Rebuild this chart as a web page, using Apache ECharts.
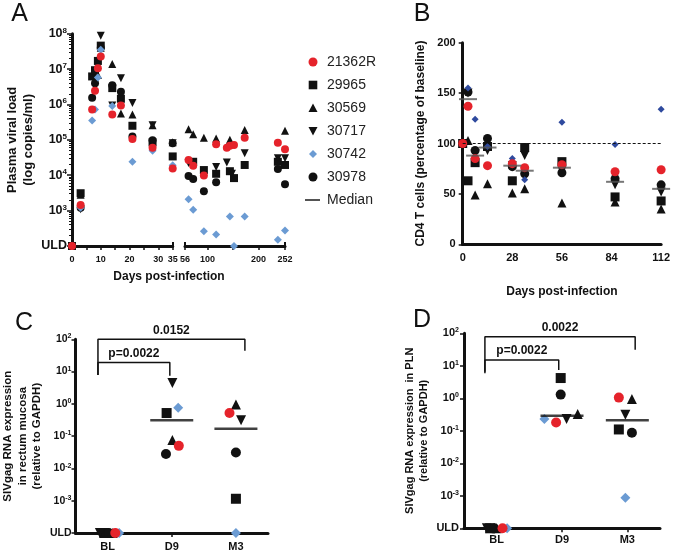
<!DOCTYPE html>
<html><head><meta charset="utf-8">
<script src="https://cdn.jsdelivr.net/npm/echarts@6/dist/echarts.min.js"></script>
<style>html,body{margin:0;padding:0;background:#fff}#c{width:673px;height:552px}</style>
</head><body><div id="c"></div>
<script>
// ---------------- DATA ----------------
const animals = ['21362R', '29965', '30569', '30717', '30742', '30978'];

// Panel A: plasma viral load [day, copies/ml]; ULD plotted at the axis floor (1e2)
const A_ULD = 100;
const vl_21362R = [[0,100],[3,1450],[7,7.2e5],[8,2.45e6],[9,1.05e7],[10,2.25e7],[14,5.2e5],[17,9.3e5],[21,1.05e5],[28,6.0e4],[35,1.55e4],
  [63,2.7e4],[72,1.85e4],[93,9.8e3],[117,7.5e4],[138,6.0e4],[144,6.8e4],[152,7.1e4],[173,1.15e5],[238,8.3e4],[252,5.4e4]];
const vl_29965 = [[0,100],[3,3.1e3],[7,6.2e6],[8,9.3e6],[9,1.7e7],[10,4.6e7],[14,2.9e6],[17,1.45e6],[21,2.5e5],[28,8.5e4],[35,3.4e4],
  [72,2.4e4],[93,1.4e4],[117,1.1e4],[144,1.3e4],[152,8.3e3],[173,1.95e4],[238,2.4e4],[252,1.95e4]];
const vl_30569 = [[0,100],[3,2.8e3],[9,6.8e6],[10,4.0e7],[14,1.4e7],[17,5.6e5],[21,5.2e5],[28,2.6e5],[35,8.5e4],
  [63,2.0e5],[72,1.45e5],[93,1.15e5],[117,1.1e5],[144,1.0e5],[173,1.9e5],[252,1.8e5]];
const vl_30717 = [[0,100],[3,1.1e3],[10,8.7e7],[14,9.3e5],[17,5.5e6],[21,1.1e6],[28,2.6e5],[35,8.0e4],
  [63,2.2e4],[117,1.7e4],[138,2.3e4],[148,1.1e4],[173,4.2e4],[238,3.0e4],[252,3.0e4]];
const vl_30742 = [[0,100],[3,1.2e3],[7,3.5e5],[8,7.2e5],[9,5.8e6],[10,3.5e7],[14,9.1e5],[21,2.4e4],[28,4.9e4],[35,1.9e4],
  [63,2.1e3],[72,1.05e3],[93,2.6e2],[117,2.1e2],[144,6.8e2],[152,100],[173,6.8e2],[238,1.5e2],[252,2.75e2]];
const vl_30978 = [[0,100],[3,1.2e3],[7,1.55e6],[8,4.0e6],[10,4.0e7],[14,3.5e6],[17,2.3e6],[21,1.25e5],[28,9.8e4],[35,8.0e4],
  [63,9.5e3],[72,7.8e3],[93,3.5e3],[117,6.3e3],[238,1.5e4],[252,5.6e3]];
const aLeftLabels = [0, 10, 20, 30, 35];
const aLeftTicks = [0, 5, 10, 15, 20, 25, 30, 35];
const aRightLabels = [56, 100, 200, 252];
const aRightTicks = [56, 100, 150, 200, 252];

// Panel B: CD4 T cells, % of baseline
const cd4Days = [0, 3, 7, 14, 28, 35, 56, 86, 112];
const cd4_21362R = [100, 137, 85, 78, 80, 76, 79, 72, 74];
const cd4_29965  = [100, 63, 81, 97, 63, 96, 82, 47, 43];
const cd4_30569  = [100, 103, 49, 60, 51, 55, 41, 42, 35];
const cd4_30717  = [100, 150, 90, 93, 78, 88, 73, 59, 52];
const cd4_30742  = [100, 155, 124, 97, 85, 64, 121, 99, 134];
const cd4_30978  = [100, 151, 93, 105, 77, 70, 71, 65, 59];
const cd4Median  = [null, 144, 88, 96, 78, 73, 76, 62, 55];
const cd4Baseline = 100;

// Panels C/D: SIVgag RNA, [group position (0=BL,1=D9,2=M3, with jitter), value]; ULD = 1e-4
const rnaGroups = ['BL', 'D9', 'M3'];
const RNA_ULD = 1e-4;
const rm_21362R = [[0.12,1e-4],[1.11,0.05],[1.90,0.52]];
const rm_29965  = [[-0.05,1e-4],[0.92,0.52],[2.00,1.15e-3]];
const rm_30569  = [[0.08,1e-4],[1.01,0.076],[2.00,0.95]];
const rm_30717  = [[-0.12,1e-4],[1.01,4.4],[2.08,0.31]];
const rm_30742  = [[0.18,1e-4],[1.10,0.76],[2.00,1e-4]];
const rm_30978  = [[0.02,1e-4],[0.91,0.028],[2.00,0.031]];
const rmMedian  = [[1,0.31],[2,0.17]];
const rmBrackets = [
  {label:'p=0.0022', from:-0.15, to:0.97, top:19, legFrom:7.9, legTo:7.4},
  {label:'0.0152', from:-0.15, to:2.14, top:100, legFrom:7.9, legTo:44}
];

const pln_21362R = [[0.09,1e-4],[0.91,0.18],[1.87,1.05]];
const pln_29965  = [[-0.10,1e-4],[0.98,4.2],[1.87,0.11]];
const pln_30569  = [[0.00,1e-4],[1.24,0.33],[2.07,0.95]];
const pln_30717  = [[-0.15,1e-4],[1.07,0.23],[1.97,0.31]];
const pln_30742  = [[0.16,1e-4],[0.73,0.23],[1.97,8.7e-4]];
const pln_30978  = [[-0.04,1e-4],[0.98,1.3],[2.07,0.087]];
const plnMedian  = [[1,0.29],[2,0.21]];
const plnBrackets = [
  {label:'p=0.0022', from:-0.18, to:0.95, top:15, legFrom:5.9, legTo:7.4},
  {label:'0.0022', from:-0.18, to:2.12, top:79, legFrom:6.6, legTo:31}
];

// ---------------- STYLE ----------------
const FONT = '"Liberation Sans", Arial, Helvetica, sans-serif';
const DOWN = 'path://M0,0 L10,0 L5,9 Z';
const SYM = {'21362R':'circle','29965':'rect','30569':'triangle','30717':DOWN,'30742':'diamond','30978':'circle'};
const COL = {'21362R':'#e5232b','29965':'#111','30569':'#111','30717':'#111','30742':'#6b9bd3','30978':'#111'};
const COL_B = Object.assign({}, COL, {'30742':'#2f4a9e'});
const drawOrder = ['29965','30569','30717','30978','30742','21362R'];
// legend icons drawn inside an 18x10 box (the leading/trailing moves fix the box)
const BOX = 'path://M0,0 M18,10 ';
const LEG_ICON = {
  '21362R': BOX + 'M4.5,5 A4.5,4.5 0 1,0 13.5,5 A4.5,4.5 0 1,0 4.5,5 Z',
  '29965':  BOX + 'M4.7,0.7 L13.3,0.7 L13.3,9.3 L4.7,9.3 Z',
  '30569':  BOX + 'M9,0.5 L13.5,9 L4.5,9 Z',
  '30717':  BOX + 'M4.5,1 L13.5,1 L9,9.5 Z',
  '30742':  BOX + 'M9,1 L13,5 L9,9 L5,5 Z',
  '30978':  BOX + 'M4.5,5 A4.5,4.5 0 1,0 13.5,5 A4.5,4.5 0 1,0 4.5,5 Z',
  'Median': BOX + 'M1,4.1 L16,4.1 L16,5.9 L1,5.9 Z'
};

const vlOf = {'21362R':vl_21362R,'29965':vl_29965,'30569':vl_30569,'30717':vl_30717,'30742':vl_30742,'30978':vl_30978};
const cd4Of = {'21362R':cd4_21362R,'29965':cd4_29965,'30569':cd4_30569,'30717':cd4_30717,'30742':cd4_30742,'30978':cd4_30978};
const rmOf = {'21362R':rm_21362R,'29965':rm_29965,'30569':rm_30569,'30717':rm_30717,'30742':rm_30742,'30978':rm_30978};
const plnOf = {'21362R':pln_21362R,'29965':pln_29965,'30569':pln_30569,'30717':pln_30717,'30742':pln_30742,'30978':pln_30978};

function powLabel(uld) {
  return function (v) {
    if (Math.abs(v - uld) / uld < 1e-6) return '{b|ULD}';
    return '{b|10}{s|' + Math.round(Math.log10(v)) + '}';
  };
}
function richOf(big, small) {
  return {
    b: {fontSize: big, fontWeight: 'bold', fontFamily: FONT, color: '#111', lineHeight: big + 2},
    s: {fontSize: small, fontWeight: 'bold', fontFamily: FONT, color: '#111', verticalAlign: 'top', lineHeight: small + 1}
  };
}
const AX = {onZero: false, lineStyle: {color: '#111', width: 3}};
const TICK = (len, extra) => Object.assign({show: true, length: len, lineStyle: {color: '#111', width: 1.5}}, extra || {});
const LBL = (size, extra) => Object.assign({color: '#111', fontSize: size, fontWeight: 'bold', fontFamily: FONT}, extra || {});
const NAME = (size) => ({color: '#111', fontSize: size, fontWeight: 'bold', fontFamily: FONT, lineHeight: size + 3});
const HIDDEN_LINE = {show: false, onZero: false};

// minor log ticks for panel A (tick positions only)
const aMinor = [];
for (let d = 2; d < 8; d++) for (let k = 2; k <= 9; k++) aMinor.push(k * Math.pow(10, d));

const grids = [
  {left: 72, top: 33.7, width: 100.7, height: 212.3},
  {left: 185, top: 33.7, width: 100, height: 212.3},
  {left: 462.7, top: 42.7, width: 201.3, height: 201.6},
  {left: 70, top: 339.3, width: 198, height: 195},
  {left: 464, top: 333.3, width: 196, height: 195}
];

const xAxis = [
  {gridIndex: 0, type: 'value', min: 0, max: 35, position: 'bottom', splitLine: {show: false}, axisLine: AX,
   axisTick: TICK(4, {customValues: aLeftTicks}), axisLabel: LBL(9, {customValues: aLeftLabels, margin: 9})},
  {gridIndex: 1, type: 'value', min: 56, max: 252, position: 'bottom', splitLine: {show: false}, axisLine: AX,
   axisTick: TICK(4, {customValues: aRightTicks}), axisLabel: LBL(9, {customValues: aRightLabels, margin: 9})},
  {gridIndex: 2, type: 'value', min: 0, max: 112, interval: 28, splitLine: {show: false}, axisLine: AX,
   axisTick: {show: false}, axisLabel: LBL(11, {margin: 8}),
   name: 'Days post-infection', nameLocation: 'middle', nameGap: 40, nameTextStyle: NAME(12)},
  {gridIndex: 3, type: 'value', min: -0.5, max: 2.5, splitLine: {show: false}, axisLine: AX,
   axisTick: TICK(4, {customValues: [0, 1, 2]}),
   axisLabel: LBL(11, {customValues: [0, 1, 2], margin: 8, formatter: v => rnaGroups[Math.round(v)]})},
  {gridIndex: 4, type: 'value', min: -0.5, max: 2.5, splitLine: {show: false}, axisLine: AX,
   axisTick: TICK(4, {customValues: [0, 1, 2]}),
   axisLabel: LBL(11, {customValues: [0, 1, 2], margin: 6, formatter: v => rnaGroups[Math.round(v)]})},
  // end caps of the broken axis in A
  {gridIndex: 0, type: 'value', min: 0, max: 35, position: 'bottom', splitLine: {show: false}, axisLine: HIDDEN_LINE,
   axisLabel: {show: false}, axisTick: TICK(4, {inside: true, customValues: [35], lineStyle: {color: '#111', width: 2}})},
  {gridIndex: 1, type: 'value', min: 56, max: 252, position: 'bottom', splitLine: {show: false}, axisLine: HIDDEN_LINE,
   axisLabel: {show: false}, axisTick: TICK(4, {inside: true, customValues: [56, 252], lineStyle: {color: '#111', width: 2}})}
];

const yAxis = [
  {gridIndex: 0, type: 'log', logBase: 10, min: 100, max: 1e8, position: 'left', splitLine: {show: false}, axisLine: AX,
   axisTick: TICK(5), axisLabel: {formatter: powLabel(A_ULD), margin: 5, rich: richOf(12.5, 8)},
   name: 'Plasma viral load\n(log copies/ml)', nameLocation: 'middle', nameRotate: 90, nameGap: 36, nameTextStyle: NAME(13)},
  {gridIndex: 1, type: 'log', logBase: 10, min: 100, max: 1e8, position: 'left', show: false, axisLine: HIDDEN_LINE},
  {gridIndex: 2, type: 'value', min: 0, max: 200, interval: 50, splitLine: {show: false}, axisLine: AX,
   axisTick: TICK(4), axisLabel: LBL(11, {margin: 7}),
   name: 'CD4 T cells (percentage of baseline)', nameLocation: 'middle', nameRotate: 90, nameGap: 35, nameTextStyle: NAME(12)},
  {gridIndex: 3, type: 'log', logBase: 10, min: 1e-4, max: 100, splitLine: {show: false}, axisLine: AX,
   axisTick: TICK(4), axisLabel: {formatter: powLabel(RNA_ULD), margin: 4, rich: richOf(10.5, 7)},
   name: 'SIVgag RNA expression\nin rectum mucosa\n(relative to GAPDH)', nameLocation: 'middle', nameRotate: 90, nameGap: 31,
   nameTextStyle: NAME(11.5)},
  {gridIndex: 4, type: 'log', logBase: 10, min: 1e-4, max: 100, splitLine: {show: false}, axisLine: AX,
   axisTick: TICK(4), axisLabel: {formatter: powLabel(RNA_ULD), margin: 5, rich: richOf(11, 7)},
   name: 'SIVgag RNA expression  in PLN\n(relative to GAPDH)', nameLocation: 'middle', nameRotate: 90, nameGap: 33,
   nameTextStyle: NAME(11)},
  {gridIndex: 0, type: 'log', logBase: 10, min: 100, max: 1e8, position: 'left', splitLine: {show: false},
   axisLine: HIDDEN_LINE, axisLabel: {show: false}, axisTick: TICK(3, {customValues: aMinor, lineStyle: {color: '#111', width: 1}})}
];

const series = [];
function scatter(name, xi, yi, data, size, color, z) {
  series.push({type: 'scatter', name, xAxisIndex: xi, yAxisIndex: yi, data, symbol: SYM[name], symbolSize: size,
    itemStyle: {color: color, opacity: 1}, clip: false, z: z || 3, emphasis: {disabled: true}, silent: true});
}
drawOrder.forEach(n => {
  scatter(n, 0, 0, vlOf[n].filter(p => p[0] <= 35), 8, COL[n]);
  scatter(n, 1, 1, vlOf[n].filter(p => p[0] >= 56), 8, COL[n]);
});
drawOrder.forEach(n => {
  scatter(n, 2, 2, cd4Days.map((d, i) => [d, cd4Of[n][i]]), n === '30742' ? 7 : 9, COL_B[n]);
});
drawOrder.forEach(n => {
  scatter(n, 3, 3, rmOf[n], 10, COL[n]);
  scatter(n, 4, 4, plnOf[n], 10, COL[n]);
});
// medians
series.push({type: 'scatter', name: 'Median', xAxisIndex: 2, yAxisIndex: 2, symbol: 'rect', symbolSize: [18, 2],
  itemStyle: {color: '#555'}, z: 5, silent: true, clip: false,
  data: cd4Days.map((d, i) => [d, cd4Median[i]]).filter(p => p[1] != null),
  markLine: {silent: true, symbol: 'none', label: {show: false}, lineStyle: {color: '#111', type: [3, 2], width: 1},
    data: [{yAxis: cd4Baseline}]}});
series.push({type: 'scatter', name: 'Median', xAxisIndex: 3, yAxisIndex: 3, symbol: 'rect', symbolSize: [43, 2.5],
  itemStyle: {color: '#111'}, z: 5, silent: true, clip: false, data: rmMedian});
series.push({type: 'scatter', name: 'Median', xAxisIndex: 4, yAxisIndex: 4, symbol: 'rect', symbolSize: [43, 2.5],
  itemStyle: {color: '#111'}, z: 5, silent: true, clip: false, data: plnMedian});
// significance brackets
function brackets(list, xi, yi) {
  list.forEach(b => {
    series.push({type: 'line', xAxisIndex: xi, yAxisIndex: yi, showSymbol: false, silent: true, clip: false,
      lineStyle: {color: '#111', width: 1.5}, z: 2,
      data: [[b.from, b.legFrom], [b.from, b.top], [b.to, b.top], [b.to, b.legTo]],
      markPoint: {silent: true, symbol: 'circle', symbolSize: 0,
        label: {show: true, position: 'top', distance: 3, formatter: b.label, color: '#111', fontSize: 12,
          fontWeight: 'bold', fontFamily: FONT},
        data: [{coord: [(b.from + b.to) / 2, b.top], value: 0}]}});
  });
}
brackets(rmBrackets, 3, 3);
brackets(plnBrackets, 4, 4);

const letter = (t, x, y) => ({type: 'text', x, y, style: {text: t, fill: '#111', font: '25px ' + FONT, textAlign: 'center', textVerticalAlign: 'middle'}});

const option = {
  animation: false,
  backgroundColor: '#fff',
  grid: grids,
  xAxis, yAxis, series,
  legend: {orient: 'vertical', left: 299, top: 50, itemWidth: 18, itemHeight: 10, itemGap: 9, selectedMode: false,
    textStyle: {fontSize: 14, color: '#222', fontFamily: FONT},
    data: animals.concat(['Median']).map(n => ({name: n, icon: LEG_ICON[n], itemStyle: {color: n === 'Median' ? '#111' : COL[n]}}))},
  graphic: [
    letter('A', 19.5, 14), letter('B', 422, 14), letter('C', 24, 323.5), letter('D', 422, 320),
    {type: 'text', x: 169, y: 277, style: {text: 'Days post-infection', fill: '#111', font: 'bold 12px ' + FONT,
      textAlign: 'center', textVerticalAlign: 'middle'}}
  ]
};
const chart = echarts.init(document.getElementById('c'), null, {renderer: 'canvas'});
chart.setOption(option);
</script></body></html>
